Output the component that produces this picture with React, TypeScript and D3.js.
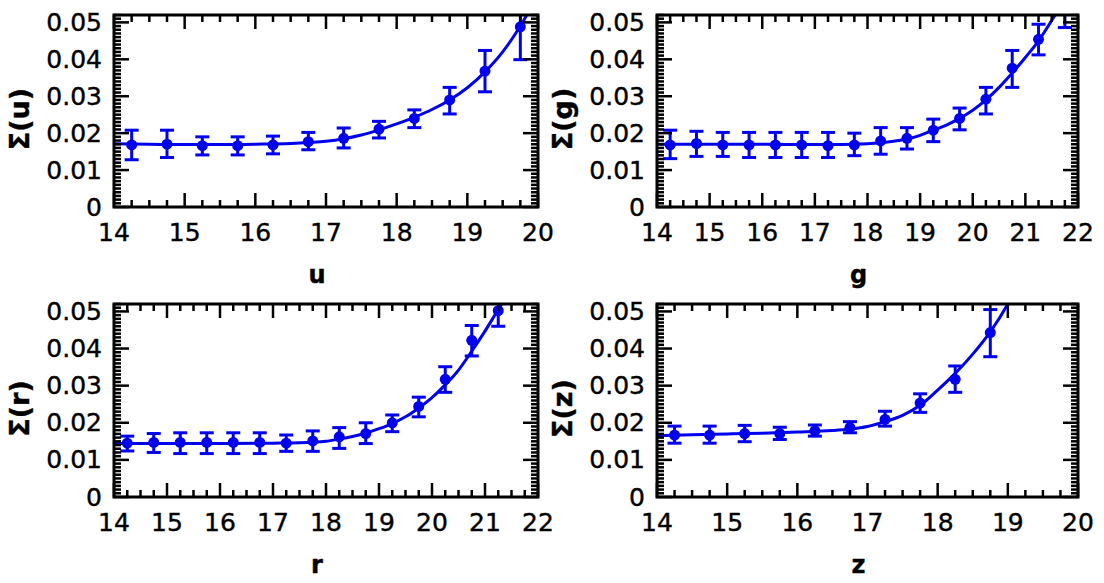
import React from "react";
import * as d3 from "d3";

// measured magnitudes / sigma values per band
const uMag = [14.25, 14.75, 15.25, 15.75, 16.25, 16.75, 17.25, 17.75, 18.25, 18.75, 19.25, 19.75];
const uSig = [0.0168, 0.017, 0.0166, 0.0166, 0.0168, 0.0177, 0.0186, 0.0211, 0.024, 0.029, 0.0368, 0.0488];
const uHi = [0.0208, 0.0208, 0.019, 0.019, 0.0192, 0.0202, 0.0214, 0.0232, 0.0263, 0.0324, 0.0424, 0.0577];
const uLo = [0.0128, 0.0134, 0.0141, 0.0141, 0.0144, 0.0155, 0.016, 0.0187, 0.0215, 0.0252, 0.0312, 0.0399];
const uFitX = [14, 14.5, 15, 15.5, 16, 16.5, 17, 17.25, 17.5, 17.75, 18, 18.25, 18.5, 18.75, 19, 19.25, 19.5, 19.75, 19.9];
const uFitY = [0.0171, 0.017, 0.0169, 0.0169, 0.017, 0.0172, 0.0178, 0.0185, 0.0195, 0.0209, 0.0225, 0.0243, 0.0264, 0.029, 0.0323, 0.0366, 0.042, 0.049, 0.054];

const gMag = [14.25, 14.75, 15.25, 15.75, 16.25, 16.75, 17.25, 17.75, 18.25, 18.75, 19.25, 19.75, 20.25, 20.75, 21.25, 21.75];
const gSig = [0.0168, 0.0172, 0.0168, 0.0168, 0.0168, 0.0168, 0.0166, 0.0168, 0.0179, 0.0186, 0.0208, 0.024, 0.0292, 0.0376, 0.0454, 0.058];
const gHi = [0.0208, 0.0205, 0.0202, 0.0202, 0.0202, 0.0202, 0.0202, 0.02, 0.0215, 0.0215, 0.0238, 0.0268, 0.0324, 0.0424, 0.0495, 0.0675];
const gLo = [0.0131, 0.0137, 0.0137, 0.0134, 0.0134, 0.0134, 0.0134, 0.0139, 0.0143, 0.0157, 0.0177, 0.0209, 0.0252, 0.0324, 0.0412, 0.0486];
const gFitX = [14, 15, 16, 17, 17.5, 18, 18.5, 18.75, 19, 19.25, 19.5, 19.75, 20, 20.25, 20.5, 20.75, 21, 21.25, 21.5, 21.65];
const gFitY = [0.017, 0.017, 0.017, 0.0169, 0.0169, 0.0171, 0.0178, 0.0184, 0.0194, 0.0208, 0.0222, 0.024, 0.0262, 0.029, 0.0324, 0.0363, 0.0405, 0.045, 0.0505, 0.054];

const rMag = [14.25, 14.75, 15.25, 15.75, 16.25, 16.75, 17.25, 17.75, 18.25, 18.75, 19.25, 19.75, 20.25, 20.75, 21.25];
const rSig = [0.0145, 0.0147, 0.0147, 0.0147, 0.0147, 0.0147, 0.0145, 0.0151, 0.0162, 0.0171, 0.02, 0.0244, 0.0317, 0.0422, 0.0502];
const rHi = [0.0164, 0.0171, 0.0173, 0.0173, 0.0173, 0.0173, 0.0167, 0.0178, 0.0187, 0.02, 0.0221, 0.0269, 0.0351, 0.0462, 0.0545];
const rLo = [0.0124, 0.012, 0.0117, 0.0117, 0.0117, 0.0117, 0.0123, 0.0123, 0.0131, 0.0144, 0.0176, 0.0216, 0.0282, 0.038, 0.046];
const rFitX = [14, 15, 16, 17, 17.5, 18, 18.25, 18.5, 18.75, 19, 19.25, 19.5, 19.75, 20, 20.25, 20.5, 20.75, 21, 21.25, 21.45];
const rFitY = [0.0144, 0.0144, 0.0144, 0.0145, 0.0146, 0.015, 0.0156, 0.0163, 0.0172, 0.0184, 0.0198, 0.0216, 0.024, 0.0268, 0.0302, 0.0342, 0.0393, 0.0447, 0.0505, 0.055];

const zMag = [14.25, 14.75, 15.25, 15.75, 16.25, 16.75, 17.25, 17.75, 18.25, 18.75];
const zSig = [0.0167, 0.0167, 0.0171, 0.0171, 0.0178, 0.0187, 0.0209, 0.0253, 0.0317, 0.0443];
const zHi = [0.0191, 0.0191, 0.0193, 0.0188, 0.0194, 0.0203, 0.0231, 0.0278, 0.0353, 0.0505];
const zLo = [0.0145, 0.0145, 0.0149, 0.0155, 0.0164, 0.0173, 0.0191, 0.0228, 0.0282, 0.0378];
const zFitX = [14, 14.5, 15, 15.5, 16, 16.5, 16.75, 17, 17.25, 17.5, 17.75, 18, 18.25, 18.5, 18.75, 19, 19.1];
const zFitY = [0.0165, 0.0168, 0.017, 0.0172, 0.0175, 0.0179, 0.0183, 0.019, 0.0203, 0.022, 0.0247, 0.0288, 0.0333, 0.0385, 0.0445, 0.052, 0.0555];

const yTickVals = [0, 0.01, 0.02, 0.03, 0.04, 0.05];
const yTickLabels = ["0", "0.01", "0.02", "0.03", "0.04", "0.05"];
const xTicks1420 = [14, 15, 16, 17, 18, 19, 20];
const xTicks1422 = [14, 15, 16, 17, 18, 19, 20, 21, 22];

const BLUE = "#0000ee";
const FONT = "'DejaVu Sans', sans-serif";

interface PanelProps {
  id: string;
  band: string;
  box: { left: number; right: number; top: number; bottom: number };
  xTicks: number[];
  mag: number[];
  sig: number[];
  hi: number[];
  lo: number[];
  fitX: number[];
  fitY: number[];
}

const Panel = ({ id, band, box, xTicks, mag, sig, hi, lo, fitX, fitY }: PanelProps) => {
  const { left, right, top, bottom } = box;
  const xDom = d3.extent(xTicks) as [number, number];
  const x = d3.scaleLinear().domain(xDom).range([left, right]);
  const y = d3.scaleLinear().domain([0, 0.052]).range([bottom, top]);

  const xMinor = d3.range(xDom[0], xDom[1] + 1e-6, 0.25);
  const yMinor = d3.range(0, 0.0521, 0.001);

  const fitLine = d3
    .line<number>()
    .x((d) => x(d))
    .y((_, i) => y(fitY[i]))
    .curve(d3.curveMonotoneX)(fitX);

  const mid = (top + bottom) / 2;

  return (
    <g>
      <defs>
        <clipPath id={`clip-${id}`}>
          <rect x={left} y={top} width={right - left} height={bottom - top} />
        </clipPath>
      </defs>
      <g clipPath={`url(#clip-${id})`} stroke={BLUE} fill={BLUE}>
        <path d={fitLine ?? ""} fill="none" strokeWidth={3} />
        {mag.map((m, i) => (
          <g key={i} strokeWidth={3}>
            <line x1={x(m)} x2={x(m)} y1={y(hi[i])} y2={y(lo[i])} />
            <line x1={x(m) - 7} x2={x(m) + 7} y1={y(hi[i])} y2={y(hi[i])} />
            <line x1={x(m) - 7} x2={x(m) + 7} y1={y(lo[i])} y2={y(lo[i])} />
            <circle cx={x(m)} cy={y(sig[i])} r={5.5} stroke="none" />
          </g>
        ))}
      </g>
      <g stroke="#000" strokeWidth={2.5}>
        {xMinor.map((v, i) => {
          const major = Math.abs(v - Math.round(v)) < 1e-6;
          const len = major ? 14 : 7;
          return (
            <g key={i}>
              <line x1={x(v)} x2={x(v)} y1={bottom} y2={bottom - len} />
              <line x1={x(v)} x2={x(v)} y1={top} y2={top + len} />
            </g>
          );
        })}
        {yMinor.map((v, i) => {
          const major = i % 10 === 0;
          const len = major ? 15 : 7;
          return (
            <g key={i}>
              <line x1={left} x2={left + len} y1={y(v)} y2={y(v)} />
              <line x1={right} x2={right - len} y1={y(v)} y2={y(v)} />
            </g>
          );
        })}
      </g>
      <rect x={left} y={top} width={right - left} height={bottom - top} fill="none" stroke="#000" strokeWidth={3} />
      <g fontFamily={FONT} fontSize={25} fill="#000" stroke="#000" strokeWidth={0.4}>
        {yTickVals.map((v, i) => (
          <text key={i} x={left - 12} y={y(v)} textAnchor="end" dominantBaseline="central">
            {yTickLabels[i]}
          </text>
        ))}
        {xTicks.map((v) => (
          <text key={v} x={x(v)} y={bottom + 25} textAnchor="middle" dominantBaseline="central">
            {v}
          </text>
        ))}
        <text x={(left + right) / 2 - 9} y={bottom + 76} textAnchor="middle" fontWeight="bold" fontSize={24}>
          {band}
        </text>
        <text
          transform={`translate(${left - 95},${mid + 8}) rotate(-90)`}
          textAnchor="middle"
          dominantBaseline="central"
          fontWeight="bold"
          fontSize={27}
        >
          {`Σ(${band})`}
        </text>
      </g>
    </g>
  );
};

export default function App() {
  return (
    <svg width={1104} height={583} style={{ position: "absolute", left: 0, top: 0, background: "#fff" }}>
      <rect width={1104} height={583} fill="#fff" />
      <Panel id="u" band="u" box={{ left: 114, right: 538, top: 15, bottom: 207 }} xTicks={xTicks1420}
        mag={uMag} sig={uSig} hi={uHi} lo={uLo} fitX={uFitX} fitY={uFitY} />
      <Panel id="g" band="g" box={{ left: 657, right: 1078, top: 15, bottom: 207 }} xTicks={xTicks1422}
        mag={gMag} sig={gSig} hi={gHi} lo={gLo} fitX={gFitX} fitY={gFitY} />
      <Panel id="r" band="r" box={{ left: 114, right: 538, top: 304, bottom: 497 }} xTicks={xTicks1422}
        mag={rMag} sig={rSig} hi={rHi} lo={rLo} fitX={rFitX} fitY={rFitY} />
      <Panel id="z" band="z" box={{ left: 657, right: 1078, top: 304, bottom: 497 }} xTicks={xTicks1420}
        mag={zMag} sig={zSig} hi={zHi} lo={zLo} fitX={zFitX} fitY={zFitY} />
    </svg>
  );
}
